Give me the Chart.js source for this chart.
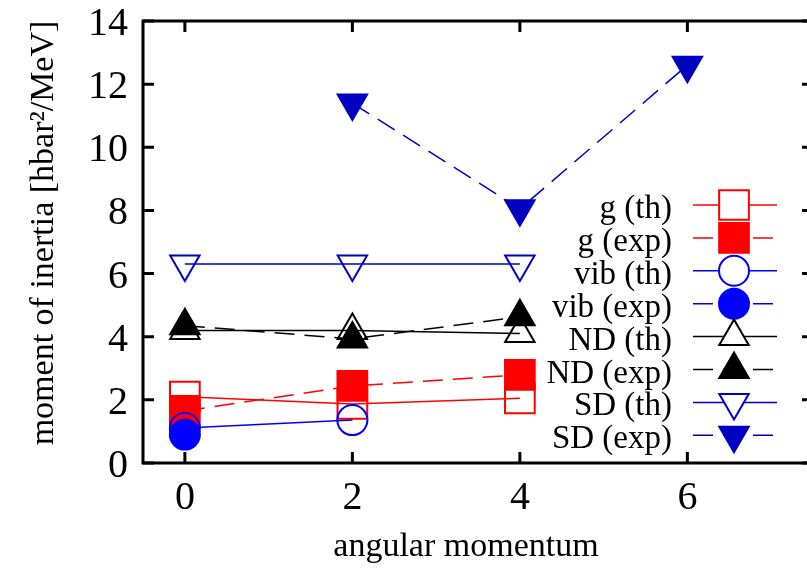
<!DOCTYPE html>
<html>
<head>
<meta charset="utf-8">
<script src="https://cdn.jsdelivr.net/npm/chart.js@4.4.1/dist/chart.umd.min.js"></script>
<style>
    html, body { margin: 0; padding: 0; background: #fff; overflow: hidden; }
    #wrap { width: 815px; height: 571px; }
</style>
</head>
<body>
<div id="wrap"><canvas id="inertiaChart" width="815" height="571"></canvas></div>
<script>
// tick labels
const xTicks = [0, 2, 4, 6];
const yTicks = [0, 2, 4, 6, 8, 10, 12, 14];

// moment of inertia vs angular momentum
const gThSpin = [0, 2, 4];
const gThVal = [2.1, 1.87, 2.05];
const gExpSpin = [0, 2, 4];
const gExpVal = [1.65, 2.44, 2.79];
const vibThSpin = [0, 2];
const vibThVal = [1.11, 1.36];
const vibExpSpin = [0];
const vibExpVal = [0.9];
const ndThSpin = [0, 2, 4];
const ndThVal = [4.2, 4.2, 4.1];
const ndExpSpin = [0, 2, 4];
const ndExpVal = [4.35, 3.93, 4.63];
const sdThSpin = [0, 2, 4];
const sdThVal = [6.3, 6.3, 6.3];
const sdExpSpin = [2, 4, 6];
const sdExpVal = [11.4, 8.05, 12.6];

const RED = '#ff0000';
const BLUE = '#0000ff';
const DARKBLUE = '#0000c0';
const BLACK = '#000000';
const DASH = [20, 10];
const FONT = '"Liberation Serif", "DejaVu Serif", serif';

const series = [
    { label: 'g (th)',    spin: gThSpin,    val: gThVal,    color: RED,      style: 'rect',     r: 21, filled: false, dashed: false, rot: 0 },
    { label: 'g (exp)',   spin: gExpSpin,   val: gExpVal,   color: RED,      style: 'rect',     r: 21, filled: true,  dashed: true,  rot: 0 },
    { label: 'vib (th)',  spin: vibThSpin,  val: vibThVal,  color: BLUE,     style: 'circle',   r: 15, filled: false, dashed: false, rot: 0 },
    { label: 'vib (exp)', spin: vibExpSpin, val: vibExpVal, color: BLUE,     style: 'circle',   r: 15, filled: true,  dashed: true,  rot: 0 },
    { label: 'ND (th)',   spin: ndThSpin,   val: ndThVal,   color: BLACK,    style: 'triangle', r: 17, filled: false, dashed: false, rot: 0 },
    { label: 'ND (exp)',  spin: ndExpSpin,  val: ndExpVal,  color: BLACK,    style: 'triangle', r: 17, filled: true,  dashed: true,  rot: 0 },
    { label: 'SD (th)',   spin: sdThSpin,   val: sdThVal,   color: DARKBLUE, style: 'triangle', r: 17, filled: false, dashed: false, rot: 180 },
    { label: 'SD (exp)',  spin: sdExpSpin,  val: sdExpVal,  color: DARKBLUE, style: 'triangle', r: 17, filled: true,  dashed: true,  rot: 180 }
];

const datasets = series.map((s, i) => ({
    label: s.label,
    data: s.spin.map((j, k) => ({ x: j, y: s.val[k] })),
    borderColor: s.color,
    borderWidth: 1.5,
    borderDash: s.dashed ? DASH : [],
    backgroundColor: s.filled ? s.color : 'rgba(0,0,0,0)',
    pointStyle: s.style,
    pointRadius: s.r,
    pointHoverRadius: s.r,
    pointRotation: s.rot,
    pointBorderColor: s.color,
    pointBackgroundColor: s.filled ? s.color : 'rgba(0,0,0,0)',
    pointBorderWidth: 2,
    tension: 0,
    fill: false,
    order: series.length - i // later series drawn on top
}));

// simple marker painter for the legend, same shapes as chart.js
function drawMarker(ctx, s, x, y) {
    ctx.save();
    ctx.beginPath();
    if (s.style === 'rect') {
        const h = Math.SQRT1_2 * s.r;
        ctx.rect(x - h, y - h, 2 * h, 2 * h);
    } else if (s.style === 'circle') {
        ctx.arc(x, y, s.r, 0, Math.PI * 2);
    } else {
        let rad = s.rot * Math.PI / 180;
        for (let k = 0; k < 3; k++) {
            const px = x + Math.sin(rad) * s.r;
            const py = y - Math.cos(rad) * s.r;
            if (k === 0) ctx.moveTo(px, py); else ctx.lineTo(px, py);
            rad += 2 * Math.PI / 3;
        }
        ctx.closePath();
    }
    ctx.setLineDash([]);
    ctx.lineWidth = 2;
    ctx.strokeStyle = s.color;
    ctx.fillStyle = s.filled ? s.color : '#fff';
    ctx.fill();
    ctx.stroke();
    ctx.restore();
}

const framePlugin = {
    id: 'frame',
    afterDraw(chart) {
        const ctx = chart.ctx;
        const a = chart.chartArea;
        const xs = chart.scales.x;
        const ys = chart.scales.y;
        ctx.save();

        // border with inward ticks on all four sides
        ctx.strokeStyle = '#000';
        ctx.lineWidth = 3;
        ctx.strokeRect(a.left, a.top, a.right - a.left, a.bottom - a.top);
        ctx.beginPath();
        xTicks.forEach(v => {
            const px = xs.getPixelForValue(v);
            ctx.moveTo(px, a.bottom); ctx.lineTo(px, a.bottom - 11);
            ctx.moveTo(px, a.top); ctx.lineTo(px, a.top + 11);
        });
        yTicks.forEach(v => {
            const py = ys.getPixelForValue(v);
            ctx.moveTo(a.left, py); ctx.lineTo(a.left + 11, py);
            ctx.moveTo(a.right, py); ctx.lineTo(a.right - 11, py);
        });
        ctx.stroke();

        // tick labels
        ctx.fillStyle = '#000';
        ctx.font = '40px ' + FONT;
        ctx.textBaseline = 'alphabetic';
        ctx.textAlign = 'right';
        yTicks.forEach(v => ctx.fillText(String(v), a.left - 15, ys.getPixelForValue(v) + 14));
        ctx.textAlign = 'center';
        xTicks.forEach(v => ctx.fillText(String(v), xs.getPixelForValue(v), a.bottom + 46));

        // axis titles
        ctx.font = '34px ' + FONT;
        ctx.fillText('angular momentum', 466, 556);
        ctx.translate(53, 233);
        ctx.rotate(-Math.PI / 2);
        ctx.fillText('moment of inertia [hbar\u00B2/MeV]', 0, 0);
        ctx.restore();

        // legend: text on the left, sample line and marker on the right
        ctx.save();
        ctx.font = '33px ' + FONT;
        ctx.textAlign = 'right';
        ctx.textBaseline = 'alphabetic';
        series.forEach((s, i) => {
            const y = 205 + i * 32.9;
            ctx.fillStyle = '#000';
            ctx.fillText(s.label, 672, y + 13);
            ctx.beginPath();
            ctx.setLineDash(s.dashed ? DASH : []);
            ctx.lineWidth = 1.5;
            ctx.strokeStyle = s.color;
            ctx.moveTo(693, y);
            ctx.lineTo(777, y);
            ctx.stroke();
            drawMarker(ctx, s, 734, y);
        });
        ctx.restore();
    }
};

new Chart(document.getElementById('inertiaChart'), {
    type: 'line',
    data: { datasets: datasets },
    options: {
        responsive: false,
        animation: false,
        devicePixelRatio: 1,
        layout: { autoPadding: false, padding: { top: 21, right: 2, left: 0, bottom: 0 } },
        plugins: {
            legend: { display: false },
            tooltip: { enabled: false }
        },
        scales: {
            x: {
                type: 'linear',
                min: -0.5,
                max: 7.5,
                grid: { display: false, drawTicks: false },
                border: { display: false },
                afterBuildTicks: scale => { scale.ticks = xTicks.map(v => ({ value: v })); },
                afterFit: scale => { scale.height = 108; },
                ticks: { display: false }
            },
            y: {
                type: 'linear',
                min: 0,
                max: 14,
                grid: { display: false, drawTicks: false },
                border: { display: false },
                afterBuildTicks: scale => { scale.ticks = yTicks.map(v => ({ value: v })); },
                afterFit: scale => { scale.width = 143; },
                ticks: { display: false }
            }
        }
    },
    plugins: [framePlugin]
});
</script>
</body>
</html>
